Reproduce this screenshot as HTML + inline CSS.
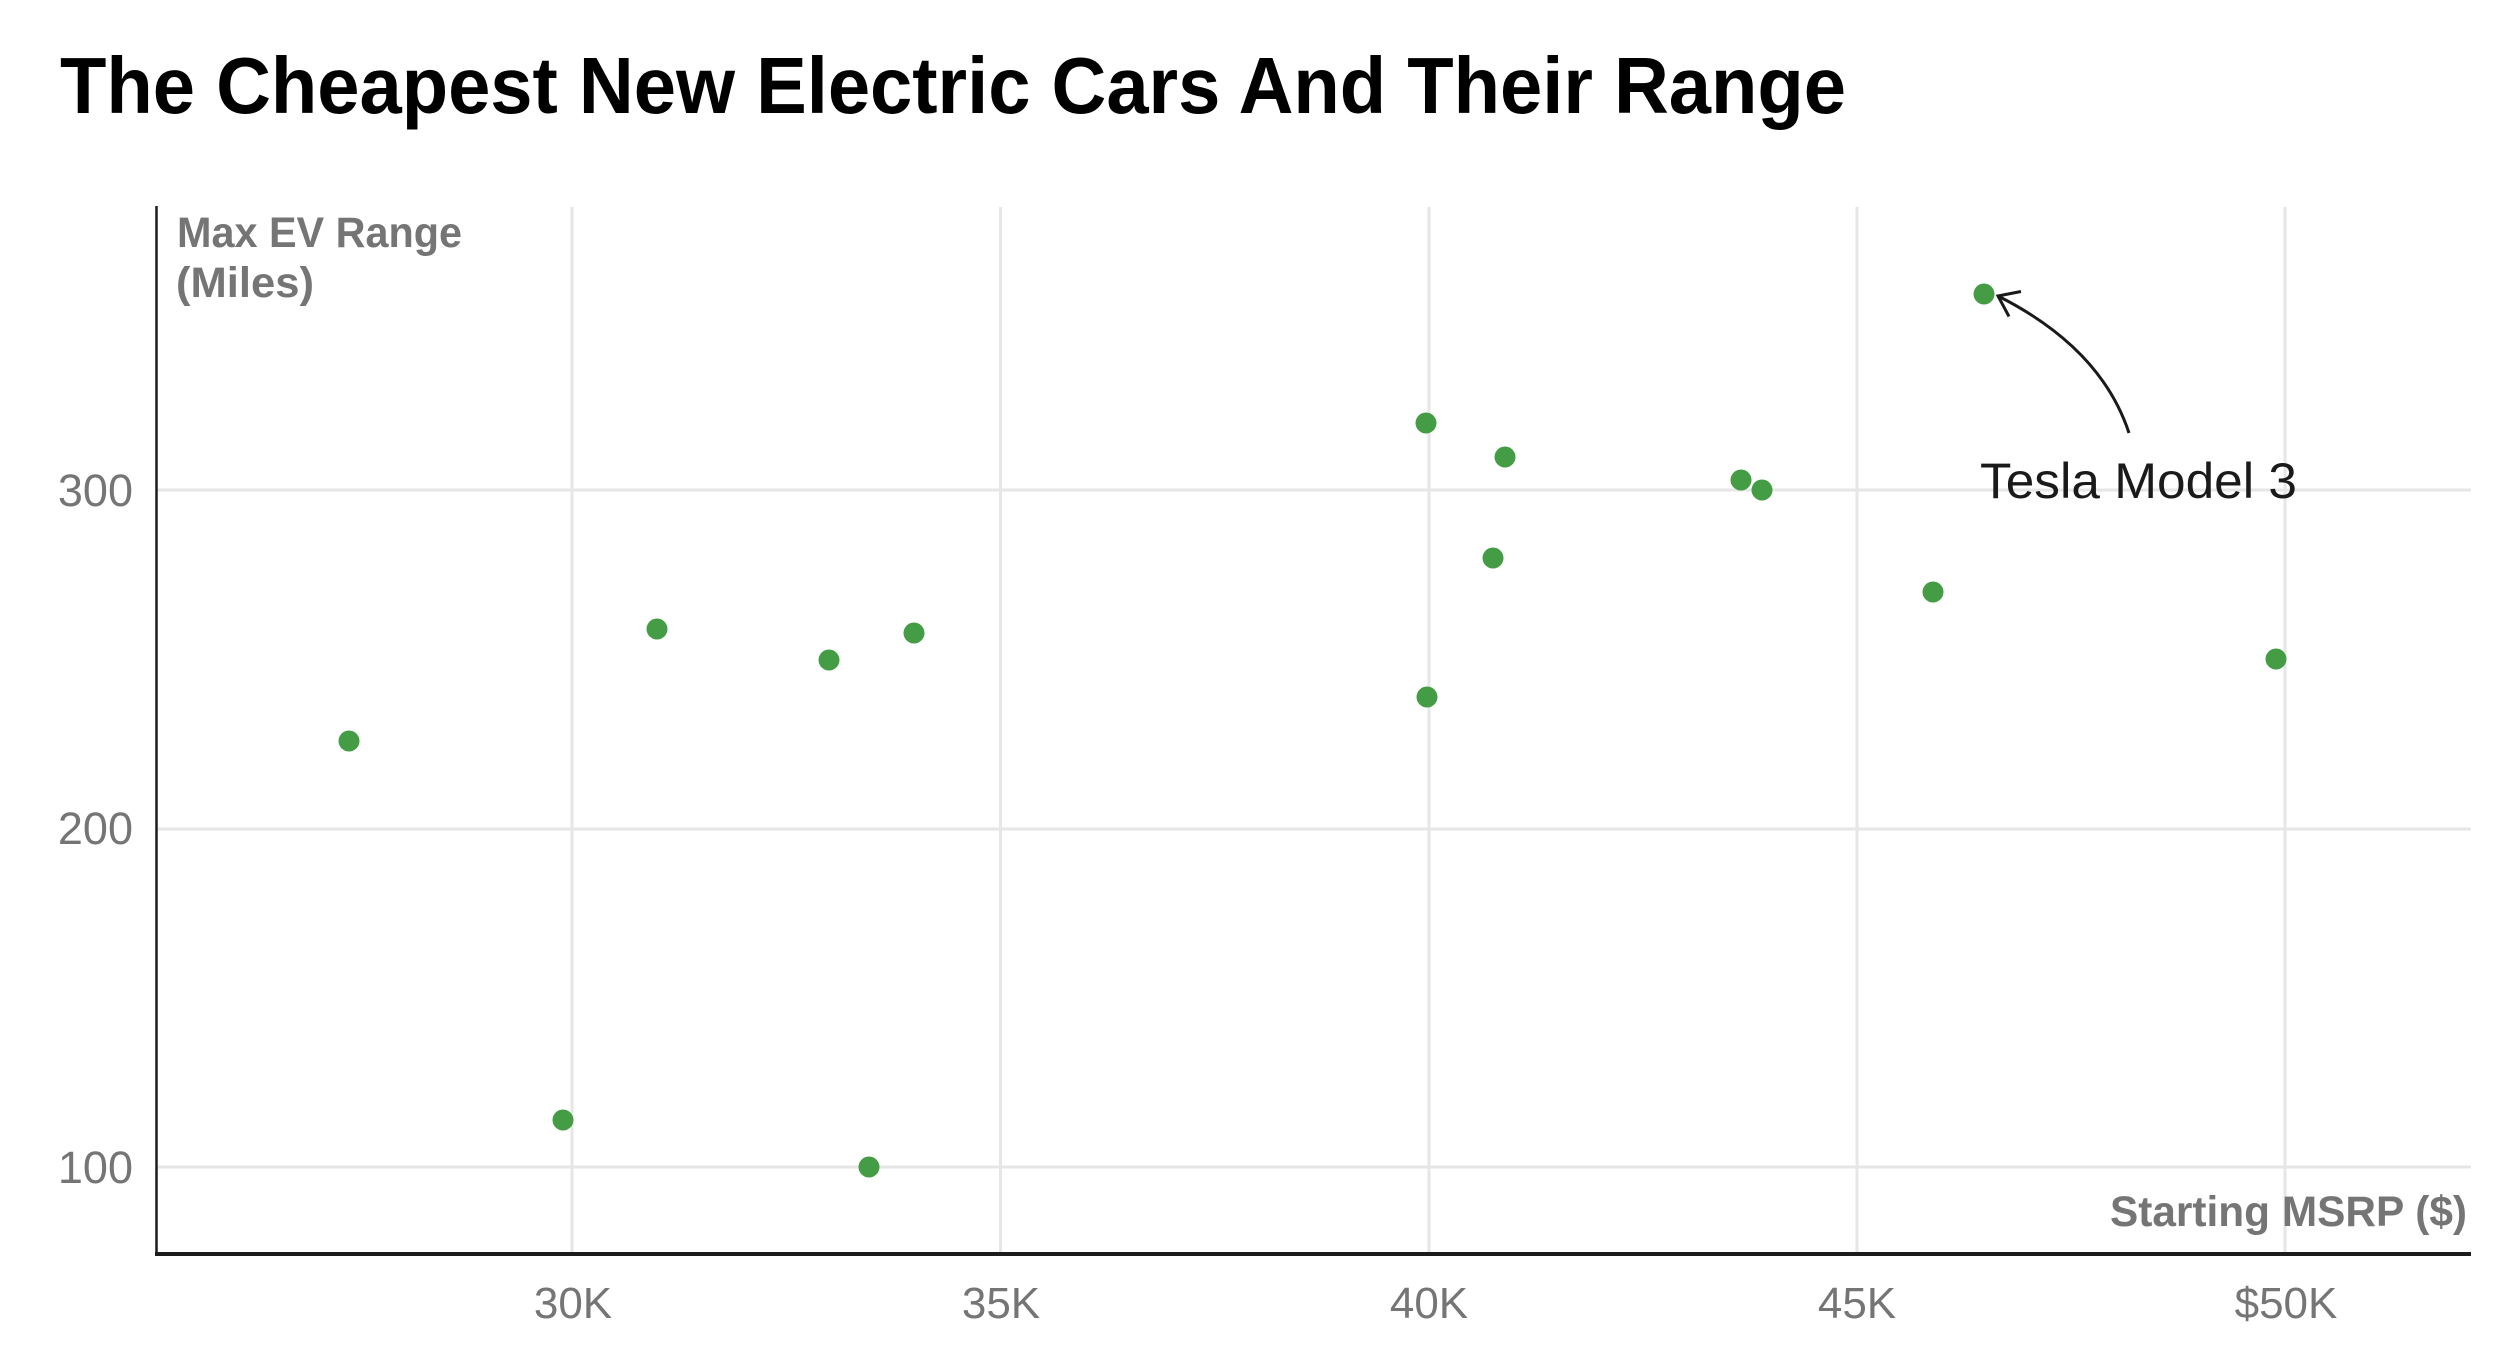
<!DOCTYPE html>
<html>
<head>
<meta charset="utf-8">
<style>
  html, body { margin:0; padding:0; background:#ffffff; }
  body { width:2512px; height:1358px; overflow:hidden; }
  svg { display:block; }
  text { font-family: "Liberation Sans", "DejaVu Sans", sans-serif; }
</style>
</head>
<body>
<svg width="2512" height="1358" viewBox="0 0 2512 1358" xmlns="http://www.w3.org/2000/svg">
  <rect x="0" y="0" width="2512" height="1358" fill="#ffffff"/>

  <!-- Title -->
  <text x="60" y="113" font-size="80" font-weight="bold" fill="#000000" textLength="1786" lengthAdjust="spacingAndGlyphs">The Cheapest New Electric Cars And Their Range</text>

  <!-- Vertical gridlines -->
  <g stroke="#e6e6e6" stroke-width="3">
    <line x1="572" y1="207" x2="572" y2="1252"/>
    <line x1="1000.5" y1="207" x2="1000.5" y2="1252"/>
    <line x1="1429" y1="207" x2="1429" y2="1252"/>
    <line x1="1857" y1="207" x2="1857" y2="1252"/>
    <line x1="2285" y1="207" x2="2285" y2="1252"/>
  </g>
  <!-- Horizontal gridlines -->
  <g stroke="#e6e6e6" stroke-width="3">
    <line x1="158" y1="490" x2="2471" y2="490"/>
    <line x1="158" y1="829" x2="2471" y2="829"/>
    <line x1="158" y1="1167" x2="2471" y2="1167"/>
  </g>

  <!-- Axes -->
  <line x1="156.5" y1="206" x2="156.5" y2="1256" stroke="#1c1c1c" stroke-width="2.5"/>
  <line x1="155" y1="1254" x2="2471" y2="1254" stroke="#1c1c1c" stroke-width="4"/>

  <!-- Y tick labels -->
  <g font-size="45" fill="#757575" text-anchor="end">
    <text x="133" y="506">300</text>
    <text x="133" y="844">200</text>
    <text x="133" y="1183">100</text>
  </g>

  <!-- X tick labels -->
  <g font-size="44" fill="#757575" text-anchor="middle">
    <text x="573" y="1318">30K</text>
    <text x="1001" y="1318">35K</text>
    <text x="1429" y="1318">40K</text>
    <text x="1857" y="1318">45K</text>
    <text x="2286" y="1318">$50K</text>
  </g>

  <!-- Axis titles -->
  <g font-size="43" font-weight="bold" fill="#757575">
    <text x="177" y="247" textLength="285" lengthAdjust="spacingAndGlyphs">Max EV Range</text>
    <text x="176" y="297" textLength="138" lengthAdjust="spacingAndGlyphs">(Miles)</text>
    <text x="2110" y="1226" textLength="357" lengthAdjust="spacingAndGlyphs">Starting MSRP ($)</text>
  </g>

  <!-- Data points -->
  <g fill="#449d44">
    <circle cx="349" cy="741" r="10.5"/>
    <circle cx="563" cy="1120" r="10.5"/>
    <circle cx="657" cy="629" r="10.5"/>
    <circle cx="829" cy="660" r="10.5"/>
    <circle cx="869" cy="1167" r="10.5"/>
    <circle cx="914" cy="633" r="10.5"/>
    <circle cx="1426" cy="423" r="10.5"/>
    <circle cx="1427" cy="697" r="10.5"/>
    <circle cx="1493" cy="558" r="10.5"/>
    <circle cx="1505" cy="457" r="10.5"/>
    <circle cx="1741" cy="480" r="10.5"/>
    <circle cx="1762" cy="490" r="10.5"/>
    <circle cx="1933" cy="592" r="10.5"/>
    <circle cx="1984" cy="294" r="10.5"/>
    <circle cx="2276" cy="659" r="10.5"/>
  </g>

  <!-- Annotation -->
  <path d="M2129,433 Q2101,348 1998,296" fill="none" stroke="#1a1a1a" stroke-width="3"/>
  <path d="M2021,291.5 L1998,296 L2009,316.5" fill="none" stroke="#1a1a1a" stroke-width="3" stroke-linejoin="miter"/>
  <text x="1980" y="498" font-size="50" fill="#1a1a1a" textLength="317" lengthAdjust="spacingAndGlyphs">Tesla Model 3</text>
</svg>
</body>
</html>
